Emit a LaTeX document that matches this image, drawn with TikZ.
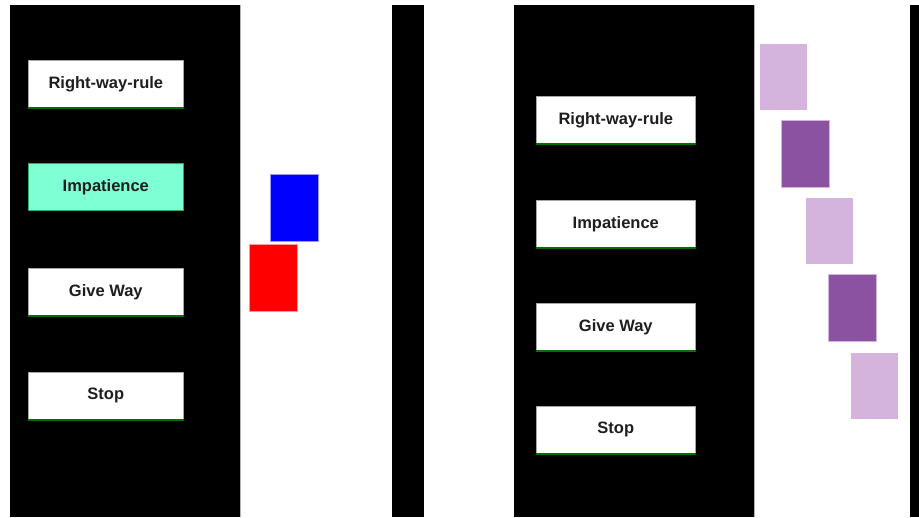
\documentclass[tikz,border=0pt]{standalone}
\usepackage{fontspec}
\setmainfont{Liberation Sans}
\definecolor{aqua}{RGB}{127,255,212}
\definecolor{aquaedge}{RGB}{46,170,100}
\definecolor{btnline}{RGB}{0,110,0}
\definecolor{lilac}{RGB}{212,180,221}
\definecolor{plum}{RGB}{139,82,161}
\definecolor{txt}{RGB}{30,30,30}
\begin{document}
\begin{tikzpicture}[x=1pt,y=-1pt,
  panel/.style={fill=black,draw=none},
  btn/.style={draw=gray!70,line width=0.6pt,fill=white,minimum height=47pt,inner sep=0pt,anchor=north west,
    font=\fontsize{16.5}{18}\selectfont\bfseries,text=txt},
  btnleft/.style={btn,minimum width=155pt},
  btnright/.style={btn,minimum width=159pt},
  hot/.style={fill=aqua,draw=aquaedge},
  car/.style={draw=white,line width=0.4pt,minimum width=48pt,minimum height=67pt,inner sep=0pt,anchor=north west}
]
\useasboundingbox (0,0) rectangle (919,518);
\fill[white] (0,0) rectangle (919,518);
% panels
\fill[panel] (10,5) rectangle (240,517);
\fill[panel] (392,5) rectangle (424,517);
\fill[panel] (514,5) rectangle (754,517);
\fill[panel] (910,5) rectangle (919,517);
\draw[gray!60,line width=0.8pt] (240.4,5) -- (240.4,517);
\draw[gray!60,line width=0.8pt] (754.4,5) -- (754.4,517);
% left buttons
\node[btnleft] (lrw) at (28,60) {Right-way-rule};
\node[btnleft,hot] (limp) at (28,163) {Impatience};
\node[btnleft] (lgw) at (28,268) {Give Way};
\node[btnleft] (lst) at (28,372) {Stop};
% right buttons
\node[btnright] (rrw) at (536,96) {Right-way-rule};
\node[btnright] (rimp) at (536,200) {Impatience};
\node[btnright] (rgw) at (536,303) {Give Way};
\node[btnright] (rst) at (536,406) {Stop};
% green underlines
\foreach \b in {lrw,lgw,lst,rrw,rimp,rgw,rst}{
  \draw[btnline,line width=2pt] (\b.south west) -- (\b.south east);
}
% cars left
\node[car,fill=blue,draw=blue!40] (blue) at (270,174) {};
\node[car,fill=red,draw=red!40] (red) at (249,244) {};
% cars right
\node[car,fill=lilac] (p1) at (759,43) {};
\node[car,fill=plum,draw=lilac] (p2) at (781,120) {};
\node[car,fill=lilac] (p3) at (805,197) {};
\node[car,fill=plum,draw=lilac] (p4) at (828,274) {};
\node[car,fill=lilac] (p5) at (850,352) {};
\end{tikzpicture}
\end{document}
